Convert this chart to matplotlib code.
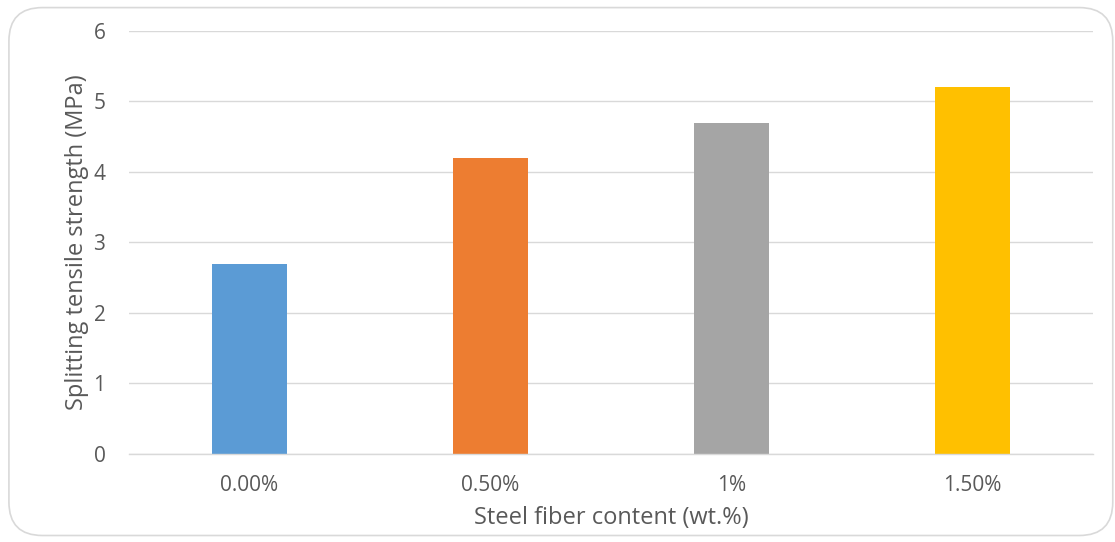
import matplotlib
matplotlib.use("Agg")
from matplotlib import pyplot as plt
from matplotlib.patches import FancyBboxPatch

categories = ["0.00%", "0.50%", "1%", "1.50%"]
strength = [2.7, 4.2, 4.7, 5.2]
colors = ["#5B9BD5", "#ED7D31", "#A5A5A5", "#FFC000"]
yticks = [0, 1, 2, 3, 4, 5, 6]

plt.rcParams["font.family"] = ["Open Sans", "DejaVu Sans"]
text_color = "#595959"

fig = plt.figure(figsize=(11.15, 5.42), dpi=100)

# rounded chart border, kept behind the axes
border = FancyBboxPatch((0.008, 0.012), 0.99, 0.974, boxstyle="round,pad=0,rounding_size=0.03",
                        transform=fig.transFigure, facecolor="white", edgecolor="#D9D9D9",
                        linewidth=1.2, mutation_aspect=1115 / 542, zorder=-10)
fig.patches.append(border)

ax = fig.add_axes([0.1157, 0.1624, 0.8646, 0.7804])
ax.set_facecolor("none")
ax.set_zorder(5)

x = list(range(len(categories)))
ax.bar(x, strength, width=0.315, color=colors, zorder=3)

ax.set_xlim(-0.5, 3.5)
ax.set_ylim(0, 6)
ax.set_yticks(yticks)
ax.set_xticks(x)
ax.set_xticklabels(categories)
ax.grid(True, axis="y", color="#D9D9D9", linewidth=1, zorder=0)

for s in ["top", "right", "left"]:
    ax.spines[s].set_visible(False)
ax.spines["bottom"].set_color("#D9D9D9")
ax.spines["bottom"].set_linewidth(1)
ax.spines["bottom"].set_zorder(4)

ax.tick_params(axis="both", length=0, labelsize=15, labelcolor=text_color)
ax.tick_params(axis="y", pad=17)
ax.tick_params(axis="x", pad=15)

ax.set_xlabel("Steel fiber content (wt.%)", fontsize=17, color=text_color, labelpad=7)
ax.set_ylabel("Splitting tensile strength (MPa)", fontsize=17, color=text_color, labelpad=3)

fig.savefig("out.png", dpi=100)
